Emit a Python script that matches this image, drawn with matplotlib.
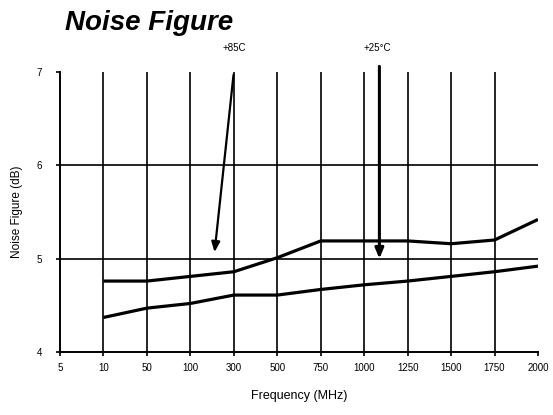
import matplotlib
matplotlib.use("Agg")
import matplotlib.pyplot as plt
import numpy as np

freq_labels = ["5", "10", "50", "100", "300", "500", "750", "1000", "1250", "1500", "1750", "2000"]
nf_85c = [None, 4.76, 4.76, 4.81, 4.86, 5.01, 5.19, 5.19, 5.19, 5.16, 5.20, 5.42]
nf_25c = [None, 4.37, 4.47, 4.52, 4.61, 4.61, 4.67, 4.72, 4.76, 4.81, 4.86, 4.92]
y_ticks = [4, 5, 6, 7]

plt.rcParams['font.family'] = ['Liberation Sans', 'DejaVu Sans']

W, H = 553, 415
fig = plt.figure(figsize=(W / 100, H / 100), dpi=100)
ax = fig.add_axes([60 / W, 1 - 352 / H, (538 - 60) / W, (352 - 72) / H])

x = np.arange(len(freq_labels))
def valid(vals):
    xs = [i for i, v in zip(x, vals) if v is not None]
    ys = [v for v in vals if v is not None]
    return xs, ys

# grid
for i in x[1:-1]:
    ax.axvline(i, color='black', lw=1.2, zorder=1)
for yv in y_ticks[1:-1]:
    ax.axhline(yv, color='black', lw=1.2, zorder=1)

xs, ys = valid(nf_85c)
ax.plot(xs, ys, color='black', lw=2.3, zorder=3, solid_capstyle='butt')
xs, ys = valid(nf_25c)
ax.plot(xs, ys, color='black', lw=2.3, zorder=3, solid_capstyle='butt')

ax.set_xlim(0, len(freq_labels) - 1)
ax.set_ylim(4, 7)
ax.set_xticks(x)
ax.set_xticklabels(freq_labels, fontsize=7)
ax.set_yticks(y_ticks)
ax.set_yticklabels([str(v) for v in y_ticks], fontsize=7)
ax.tick_params(axis='x', length=3, width=1.2, pad=5)
ax.tick_params(axis='y', length=3, width=1.2, pad=10)
for s in ['top', 'right']:
    ax.spines[s].set_visible(False)
for s in ['left', 'bottom']:
    ax.spines[s].set_linewidth(1.4)

ax.set_xlabel("Frequency (MHz)", fontsize=9, labelpad=12)
ax.set_ylabel("Noise Figure (dB)", fontsize=8.5, labelpad=10)

# annotations
ax.annotate("", xy=(3.55, 5.04), xytext=(4.0, 7.0),
            arrowprops=dict(arrowstyle="-|>,head_length=0.6,head_width=0.25", color='black', lw=1.6),
            annotation_clip=False)
ax.text(4.0, 7.2, "+85C", fontsize=7, ha='center', va='bottom')
ax.annotate("", xy=(7.35, 4.97), xytext=(7.35, 7.09),
            arrowprops=dict(arrowstyle="-|>,head_length=0.6,head_width=0.25", color='black', lw=2.2),
            annotation_clip=False)
ax.text(7.3, 7.2, "+25°C", fontsize=7, ha='center', va='bottom')

fig.text(65 / W, 1 - 23 / H, "Noise Figure", fontsize=20, fontweight='bold',
         fontstyle='italic', ha='left', va='center')

fig.savefig("out.png", dpi=100)
